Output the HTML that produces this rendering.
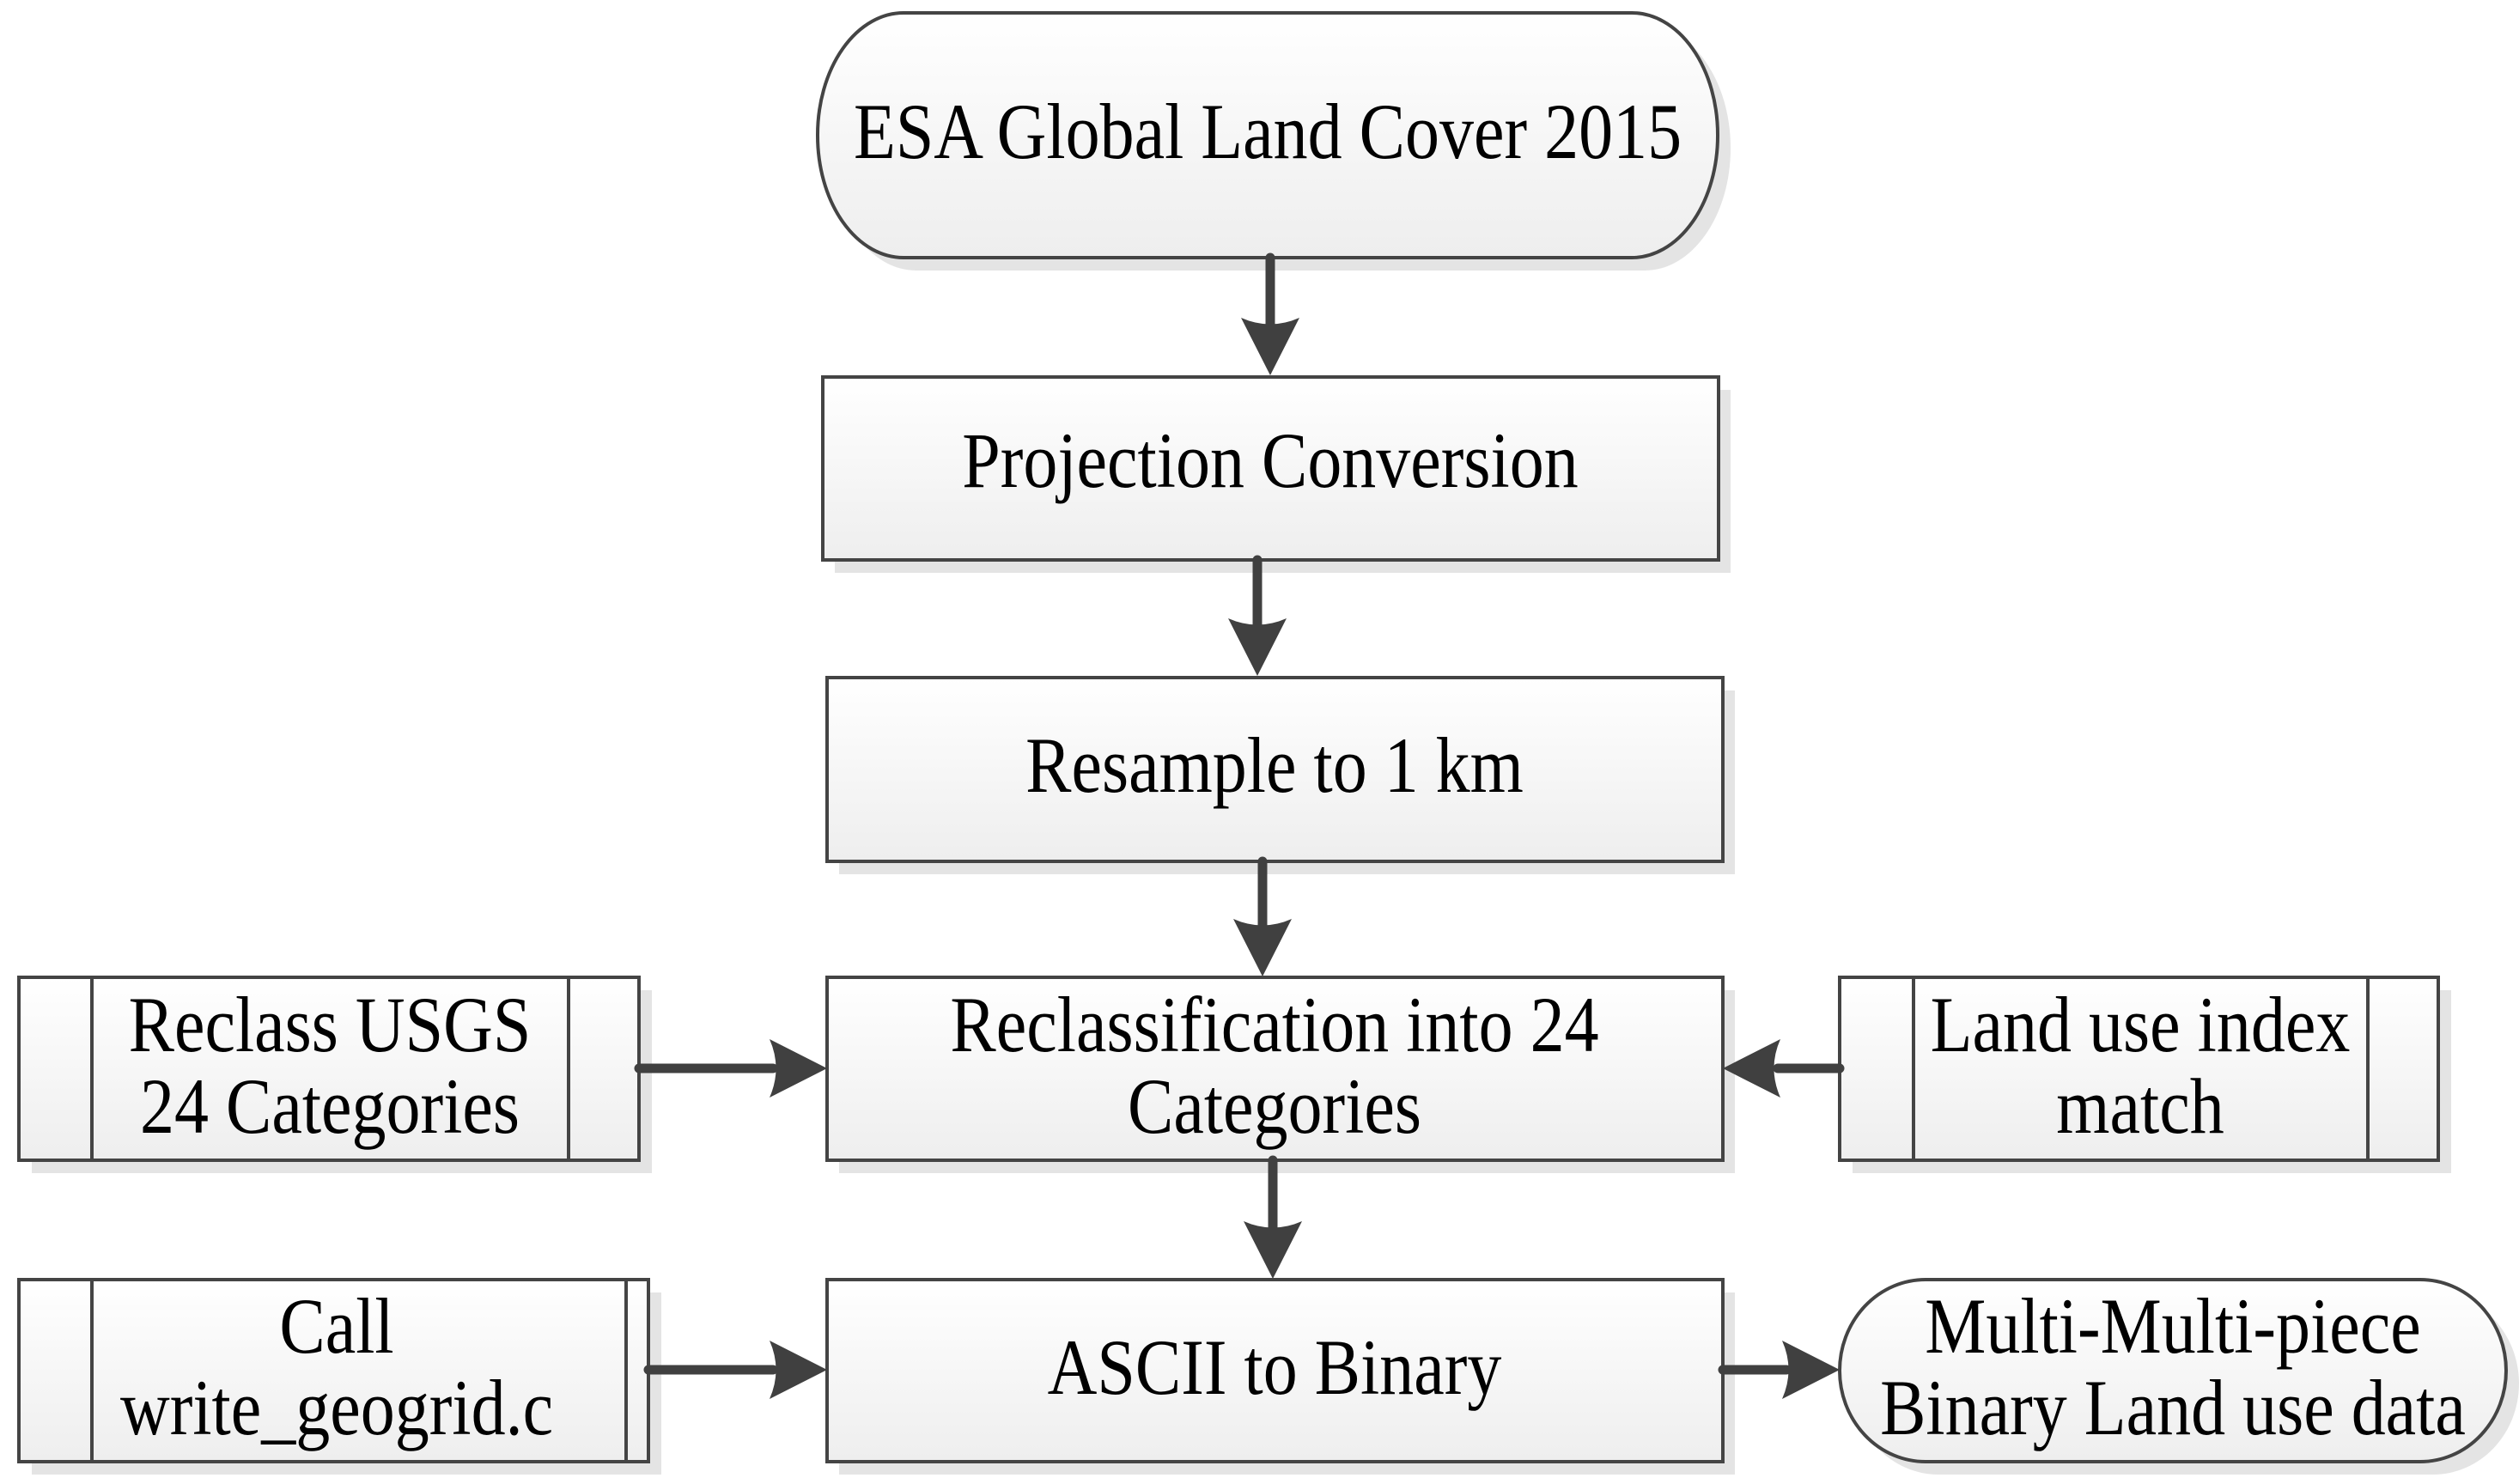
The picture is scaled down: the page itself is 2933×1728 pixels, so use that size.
<!DOCTYPE html>
<html><head><meta charset="utf-8"><style>html,body{margin:0;padding:0;background:#fff}svg{display:block}</style></head>
<body>
<svg width="2933" height="1728" viewBox="0 0 2933 1728" xmlns="http://www.w3.org/2000/svg">
<defs>
<linearGradient id="g" x1="0" y1="0" x2="0" y2="1"><stop offset="0" stop-color="#ffffff"/><stop offset="1" stop-color="#eeeeee"/></linearGradient>
</defs>
<g fill="#e4e4e4">
<rect x="967" y="30" width="1048" height="285" rx="100" ry="142"/>
<rect x="972" y="454" width="1043" height="213"/>
<rect x="977" y="804" width="1043" height="214"/>
<rect x="977" y="1153" width="1043" height="213"/>
<rect x="37" y="1153" width="722" height="213"/>
<rect x="2157" y="1153" width="697" height="213"/>
<rect x="977" y="1505" width="1043" height="212"/>
<rect x="37" y="1505" width="733" height="212"/>
<rect x="2157" y="1505" width="776" height="212" rx="100" ry="106"/>
</g>
<g fill="url(#g)" stroke="#444" stroke-width="4">
<rect x="952" y="15" width="1048" height="285" rx="100" ry="142"/>
<rect x="958" y="439" width="1043" height="213"/>
<rect x="963" y="789" width="1043" height="214"/>
<rect x="963" y="1138" width="1043" height="213"/>
<rect x="22" y="1138" width="722" height="213"/>
<rect x="2142" y="1138" width="697" height="213"/>
<rect x="963" y="1490" width="1043" height="212"/>
<rect x="22" y="1490" width="733" height="212"/>
<rect x="2142" y="1490" width="776" height="212" rx="100" ry="106"/>
</g>
<g stroke="#444" stroke-width="4">
<line x1="107" y1="1138" x2="107" y2="1351"/><line x1="662" y1="1138" x2="662" y2="1351"/>
<line x1="2228" y1="1138" x2="2228" y2="1351"/><line x1="2757" y1="1138" x2="2757" y2="1351"/>
<line x1="107" y1="1490" x2="107" y2="1702"/><line x1="729" y1="1490" x2="729" y2="1702"/>
</g>
<g stroke="#404040" stroke-width="11" stroke-linecap="round" fill="none">
<line x1="1479" y1="300" x2="1479" y2="380"/>
<line x1="1464" y1="652" x2="1464" y2="730"/>
<line x1="1470" y1="1003" x2="1470" y2="1080"/>
<line x1="1482" y1="1351" x2="1482" y2="1430"/>
<line x1="744" y1="1244" x2="900" y2="1244"/>
<line x1="2142" y1="1244" x2="2070" y2="1244"/>
<line x1="755" y1="1595" x2="900" y2="1595"/>
<line x1="2006" y1="1595" x2="2080" y2="1595"/>
</g>
<g fill="#404040">
<path d="M1479 437 L1445 370 Q1479 385 1513 370 Z"/>
<path d="M1464 787 L1430 720 Q1464 735 1498 720 Z"/>
<path d="M1470 1137 L1436 1070 Q1470 1085 1504 1070 Z"/>
<path d="M1482 1489 L1448 1422 Q1482 1437 1516 1422 Z"/>
<path d="M963 1244 L896 1210 Q911 1244 896 1278 Z"/>
<path d="M2006 1244 L2073 1210 Q2058 1244 2073 1278 Z"/>
<path d="M963 1595 L896 1561 Q911 1595 896 1629 Z"/>
<path d="M2142 1595 L2075 1561 Q2090 1595 2075 1629 Z"/>
</g>
<g font-family="Liberation Serif, serif" font-size="80" fill="#000" text-anchor="middle">
<text transform="translate(1476,184) scale(1,1.15)">ESA Global Land Cover 2015</text>
<text transform="translate(1479,567) scale(1,1.15)">Projection Conversion</text>
<text transform="translate(1484,922) scale(1,1.15)">Resample to 1 km</text>
<text transform="translate(1484,1224) scale(1,1.15)">Reclassification into 24</text>
<text transform="translate(1484,1319) scale(1,1.15)">Categories</text>
<text transform="translate(384,1224) scale(1,1.15)">Reclass USGS</text>
<text transform="translate(384,1319) scale(1,1.15)">24 Categories</text>
<text transform="translate(2492,1224) scale(1,1.15)">Land use index</text>
<text transform="translate(2492,1319) scale(1,1.15)">match</text>
<text transform="translate(1484,1623) scale(1,1.15)">ASCII to Binary</text>
<text transform="translate(392,1575) scale(1,1.15)">Call</text>
<text transform="translate(392,1670) scale(1,1.15)">write_geogrid.c</text>
<text transform="translate(2530,1575) scale(1,1.15)">Multi-Multi-piece</text>
<text transform="translate(2530,1670) scale(1,1.15)">Binary Land use data</text>
</g>
</svg>
</body></html>
